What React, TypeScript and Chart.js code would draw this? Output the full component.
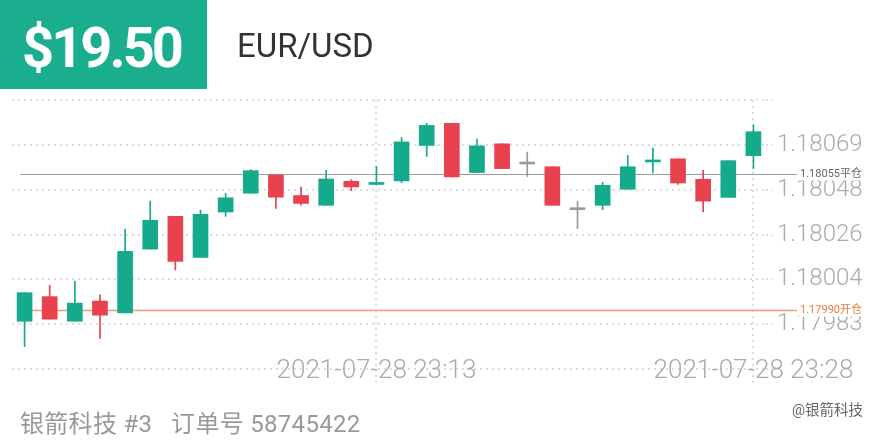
import React, { useEffect, useRef } from "react";
import { Chart, registerables } from "chart.js";

Chart.register(...registerables);

// ---------- data ----------
const HEADER_VALUE = "$19.50";
const SYMBOL = "EUR/USD";
const FOOTER_TEXT = "银箭科技 #3   订单号 58745422";
const WATERMARK = "@银箭科技";

const times = [
  "2021-07-28 22:59", "2021-07-28 23:00", "2021-07-28 23:01", "2021-07-28 23:02", "2021-07-28 23:03",
  "2021-07-28 23:04", "2021-07-28 23:05", "2021-07-28 23:06", "2021-07-28 23:07", "2021-07-28 23:08",
  "2021-07-28 23:09", "2021-07-28 23:10", "2021-07-28 23:11", "2021-07-28 23:12", "2021-07-28 23:13",
  "2021-07-28 23:14", "2021-07-28 23:15", "2021-07-28 23:16", "2021-07-28 23:17", "2021-07-28 23:18",
  "2021-07-28 23:19", "2021-07-28 23:20", "2021-07-28 23:21", "2021-07-28 23:22", "2021-07-28 23:23",
  "2021-07-28 23:24", "2021-07-28 23:25", "2021-07-28 23:26", "2021-07-28 23:27", "2021-07-28 23:28",
];
const shownTimeLabels = ["2021-07-28 23:13", "2021-07-28 23:28"];

const opens = [
  1.179844, 1.179962, 1.179844, 1.179941, 1.179884, 1.180190, 1.180347, 1.180150, 1.180368, 1.180458,
  1.180545, 1.180447, 1.180400, 1.180515, 1.180500, 1.180517, 1.180687, 1.180793, 1.180557, 1.180695,
  1.180598, 1.180585, 1.180379, 1.180400, 1.180477, 1.180608, 1.180623, 1.180525, 1.180438, 1.180638,
];
const closes = [
  1.179981, 1.179854, 1.179931, 1.179873, 1.180179, 1.180328, 1.180131, 1.180357, 1.180436, 1.180566,
  1.180439, 1.180409, 1.180526, 1.180488, 1.180506, 1.180704, 1.180783, 1.180536, 1.180685, 1.180576,
  1.180598, 1.180400, 1.180379, 1.180496, 1.180585, 1.180613, 1.180507, 1.180420, 1.180614, 1.180753,
];
const highs = [
  1.179982, 1.180016, 1.180035, 1.179971, 1.180285, 1.180420, 1.180347, 1.180377, 1.180457, 1.180571,
  1.180545, 1.180488, 1.180568, 1.180523, 1.180587, 1.180725, 1.180793, 1.180793, 1.180717, 1.180695,
  1.180655, 1.180585, 1.180420, 1.180511, 1.180639, 1.180674, 1.180623, 1.180568, 1.180614, 1.180785,
];
const lows = [
  1.179722, 1.179854, 1.179844, 1.179762, 1.179884, 1.180190, 1.180090, 1.180150, 1.180347, 1.180458,
  1.180385, 1.180401, 1.180400, 1.180470, 1.180499, 1.180509, 1.180634, 1.180536, 1.180557, 1.180576,
  1.180538, 1.180400, 1.180288, 1.180379, 1.180477, 1.180555, 1.180500, 1.180368, 1.180438, 1.180576,
];

const yTickValues = [1.179615, 1.17983, 1.180045, 1.18026, 1.180475, 1.18069, 1.180905];
const yTickLabels = ["", "1.17983", "1.18004", "1.18026", "1.18048", "1.18069", ""];

const refPrices = [1.18055, 1.1799];
const refLabels = ["1.18055平仓", "1.17990开仓"];

// ---------- styles ----------
const GREEN = "#15AA8B";
const RED = "#E8424F";
const GRAY = "#9a9a9a";
const GRID = "#dcdcdc";
const AXIS_TEXT = "#ababab";
const REF_STYLES = [
  { line: "#9d9d9d", text: "#666666", width: 1 },
  { line: "#F3996E", text: "#EE7A43", width: 1.5 },
];
const FONT = "Roboto, 'Noto Sans CJK SC', sans-serif";

const refLinePlugin = {
  id: "refLines",
  beforeDatasetsDraw(chart: any) {
    const { ctx, chartArea, scales } = chart;
    const y = scales.y;
    ctx.save();
    refPrices.forEach((p, i) => {
      const py = Math.round(y.getPixelForValue(p)) + 0.5;
      ctx.strokeStyle = REF_STYLES[i].line;
      ctx.lineWidth = REF_STYLES[i].width;
      ctx.beginPath();
      ctx.moveTo(chartArea.left + 8, py);
      ctx.lineTo(chartArea.right + 31, py);
      ctx.stroke();
    });
    ctx.restore();
  },
  afterDraw(chart: any) {
    const { ctx, chartArea, scales } = chart;
    const y = scales.y;
    ctx.save();
    ctx.font = `400 11px ${FONT}`;
    ctx.textBaseline = "middle";
    ctx.textAlign = "left";
    refPrices.forEach((p, i) => {
      const py = Math.round(y.getPixelForValue(p)) + 0.5;
      const x = chartArea.right + 34;
      const w = ctx.measureText(refLabels[i]).width;
      ctx.fillStyle = "#ffffff";
      ctx.fillRect(x - 1, py - 6.5, w + 2, 12.5);
      ctx.fillStyle = REF_STYLES[i].text;
      ctx.fillText(refLabels[i], x, py);
    });
    ctx.restore();
  },
};

export default function App() {
  const ref = useRef<HTMLCanvasElement>(null);

  useEffect(() => {
    const bodies = opens.map((o, i) => [o, closes[i]]);
    const wicks = lows.map((l, i) => [l, highs[i]]);
    const colors = opens.map((o, i) => (closes[i] > o ? GREEN : closes[i] < o ? RED : GRAY));
    const shownIdx = shownTimeLabels.map((t) => times.indexOf(t));

    const chart = new Chart(ref.current as HTMLCanvasElement, {
      type: "bar",
      data: {
        labels: times,
        datasets: [
          {
            data: bodies as any,
            backgroundColor: colors,
            barThickness: 15,
            grouped: false,
            minBarLength: 2,
            borderWidth: 0,
          } as any,
          {
            data: wicks as any,
            backgroundColor: colors,
            barThickness: 1,
            grouped: false,
            borderWidth: 0,
          } as any,
        ],
      },
      options: {
        responsive: false,
        animation: false,
        devicePixelRatio: 1,
        layout: { padding: { left: 12, right: 0, top: 100, bottom: 41 } },
        plugins: { legend: { display: false }, tooltip: { enabled: false } },
        scales: {
          x: {
            offset: true,
            grid: {
              offset: false,
              color: (c: any) => (shownIdx.includes(c.index) ? GRID : "rgba(0,0,0,0)"),
              lineWidth: 2,
              drawTicks: true,
              tickLength: 14,
              tickBorderDash: [2, 4],
            },
            border: { display: false, dash: [2, 4] },
            ticks: {
              autoSkip: false,
              maxRotation: 0,
              minRotation: 0,
              mirror: true,
              padding: -18.5,
              color: AXIS_TEXT,
              font: { family: FONT, size: 26, weight: "300" },
              callback: (_v: any, i: number) => (shownIdx.includes(i) ? times[i] : ""),
            },
            afterFit: (s: any) => {
              s.height = 30;
            },
          } as any,
          y: {
            position: "right",
            min: yTickValues[0],
            max: yTickValues[yTickValues.length - 1],
            afterBuildTicks: (s: any) => {
              s.ticks = yTickValues.map((v) => ({ value: v }));
            },
            grid: {
              color: GRID,
              lineWidth: 2,
              drawTicks: true,
              tickLength: 7,
              tickBorderDash: [2, 4],
            },
            border: { display: false, dash: [2, 4] },
            ticks: {
              padding: 4,
              color: AXIS_TEXT,
              font: { family: FONT, size: 24, weight: "300" },
              callback: (_v: any, i: number) => yTickLabels[i],
            },
            afterFit: (s: any) => {
              s.width = 114;
            },
          } as any,
        },
      },
      plugins: [refLinePlugin],
    });
    return () => chart.destroy();
  }, []);

  return (
    <div
      style={{
        position: "fixed",
        left: 0,
        top: 0,
        width: 880,
        height: 440,
        background: "#fff",
        overflow: "hidden",
        fontFamily: FONT,
      }}
    >
      <canvas
        ref={ref}
        width={880}
        height={440}
        style={{ position: "absolute", left: 0, top: 0, width: 880, height: 440 }}
      />
      <div style={{ position: "absolute", left: 0, top: 0, width: 207, height: 89, background: "#1AAE8E" }} />
      <div
        style={{
          position: "absolute",
          left: 22,
          top: 20,
          fontSize: 56,
          lineHeight: "56px",
          fontWeight: 700,
          color: "#fff",
          letterSpacing: -3,
          whiteSpace: "pre",
        }}
      >
        {HEADER_VALUE}
      </div>
      <div
        style={{
          position: "absolute",
          left: 237,
          top: 29,
          fontSize: 33,
          lineHeight: "33px",
          color: "#333",
          whiteSpace: "pre",
        }}
      >
        {SYMBOL}
      </div>
      <div
        style={{
          position: "absolute",
          left: 20,
          top: 412,
          fontSize: 24,
          lineHeight: "24px",
          color: "#999",
          letterSpacing: 0.3,
          whiteSpace: "pre",
        }}
      >
        {FOOTER_TEXT}
      </div>
      <div
        style={{
          position: "absolute",
          left: 792,
          top: 403,
          fontSize: 14.5,
          lineHeight: "15px",
          color: "#666",
          whiteSpace: "pre",
        }}
      >
        {WATERMARK}
      </div>
    </div>
  );
}
